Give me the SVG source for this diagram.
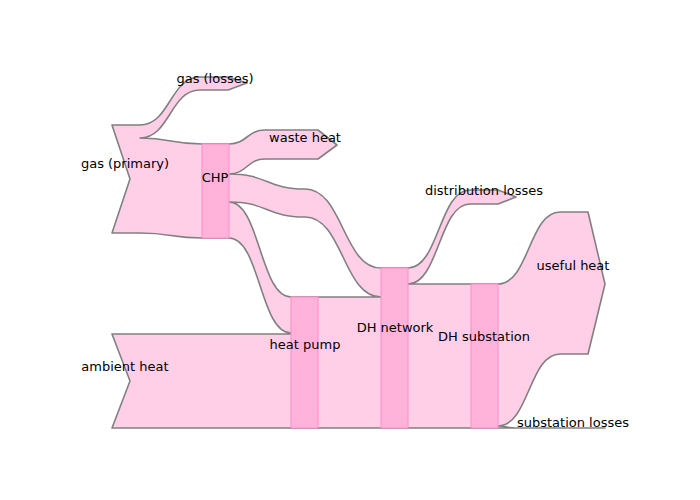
<svg xmlns="http://www.w3.org/2000/svg" width="700" height="500" viewBox="0 0 700 500">
<style>
.f{fill:#ffcfe8;stroke:none}
.b{fill:#ffb3da;stroke:#ff8cc8;stroke-width:1}
.o{fill:none;stroke:#808080;stroke-width:1.6;stroke-linejoin:round}
text{font-family:"DejaVu Sans",sans-serif;font-size:13px;fill:#000;text-anchor:middle}
</style>
<rect width="700" height="500" fill="#fff"/>
<g id="connectors">
<path class="f" d="M112,125 L140,125 L140,138 C171,138 171,144 202,144 L202,238 C171,238 171,233 140,233 L112,233 L130,179 Z"/>
<path class="f" d="M140,125 C170,125 170,77 200,77 L228,77 L247,83 L228,90 L200,90 C170,90 170,138 140,138 Z"/>
<path class="f" d="M229,144 C247,144 247,130 265,130 L318,130 L337,145 L318,159 L265,159 C247,159 247,174 229,174 Z"/>
<path class="f" d="M229,174 C267,174 267,189 305,189 C343,189 343,268 381,268 L381,297 C343,297 343,217 305,217 C267,217 267,202 229,202 Z"/>
<path class="f" d="M229,202 C260,202 260,297 291,297 L291,334 C260,334 260,238 229,238 Z"/>
<path class="f" d="M112,334 L291,334 L291,428 L112,428 L130,381 Z"/>
<rect class="f" x="318" y="297" width="63" height="131"/>
<rect class="f" x="408" y="284" width="63" height="144"/>
<path class="f" d="M408,268 C439,268 439,190 470,190 L498,190 L516,197 L498,204 L470,204 C439,204 439,284 408,284 Z"/>
<path class="f" d="M498,284 C529,284 529,212 560,212 L588,212 L605,284 L588,354 L560,354 C529,354 529,426 498,426 Z"/>
<path class="o" d="M140,138 C171,138 171,144 202,144 L229,144 C247,144 247,130 265,130 L318,130 L337,145 L318,159 L265,159 C247,159 247,174 229,174 C267,174 267,189 305,189 C343,189 343,268 381,268 L408,268 C439,268 439,190 470,190 L498,190 L516,197 L498,204 L470,204 C439,204 439,284 408,284 L498,284 C529,284 529,212 560,212 L588,212 L605,284 L588,354 L560,354 C529,354 529,426 498,426 C507,426 507,428 516,428 L605,428 L112,428 L130,381 L112,334 L291,334 L291,333 C260,333 260,238 229,238 L202,238 C171,238 171,233 140,233 L112,233 L130,179 L112,125 L140,125 C170,125 170,77 200,77 L228,77 L247,83 L228,90 L200,90 C170,90 170,138 140,138 Z"/>
<path class="o" d="M229,202 C260,202 260,297 291,297 L381,297 C343,297 343,217 305,217 C267,217 267,202 229,202 Z"/>
</g>
<g id="chp"><rect class="b" x="202" y="144" width="27" height="94"/><text x="215" y="182">CHP</text></g>
<g id="heatpump"><rect class="b" x="291" y="297" width="27" height="131"/><text x="305" y="349">heat pump</text></g>
<g id="dhnetwork"><rect class="b" x="381" y="268" width="27" height="160"/><text x="395" y="332">DH network</text></g>
<g id="dhsubstation"><rect class="b" x="471" y="284" width="27" height="144"/><text x="484" y="341">DH substation</text></g>
<g id="gasprimary"><text x="125" y="168">gas (primary)</text></g>
<g id="gaslosses"><text x="215" y="83">gas (losses)</text></g>
<g id="wasteheat"><text x="305" y="142">waste heat</text></g>
<g id="ambientheat"><text x="125" y="371">ambient heat</text></g>
<g id="distributionlosses"><text x="484" y="195">distribution losses</text></g>
<g id="usefulheat"><text x="573" y="270">useful heat</text></g>
<g id="substationlosses"><text x="573" y="427">substation losses</text></g>
</svg>
